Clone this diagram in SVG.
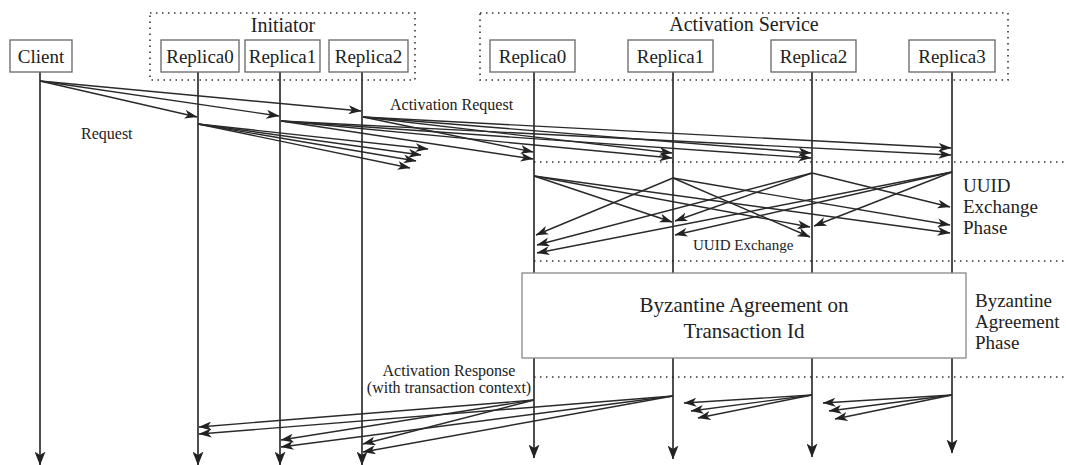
<svg xmlns="http://www.w3.org/2000/svg" width="1066" height="465" viewBox="0 0 1066 465">
<style>
.bg{fill:#fff}
.box{fill:#fff;stroke:#666;stroke-width:1.3}
.dot{fill:none;stroke:#333;stroke-width:1.6;stroke-dasharray:1.5 4.5}
.t{font-family:"Liberation Serif","Times New Roman",serif;fill:#222}
.lbl{font-size:19px;text-anchor:middle}
.grp{font-size:20px;text-anchor:middle}
.sm{font-size:16px}
.ph{font-size:19px}
.life{stroke:#222;stroke-width:1.6;fill:none}
.msg{stroke:#2a2a2a;stroke-width:1.4;fill:none}
</style>
<defs>
<marker id="ah" viewBox="0 0 13 9" refX="12.5" refY="4.5" markerWidth="13" markerHeight="9" markerUnits="userSpaceOnUse" orient="auto">
<path d="M0,0 L13,4.5 L0,9 L3.5,4.5 z" fill="#222"/>
</marker>
<marker id="lh" viewBox="0 0 14 11" refX="13.5" refY="5.5" markerWidth="14" markerHeight="11" markerUnits="userSpaceOnUse" orient="auto">
<path d="M0,0 L14,5.5 L0,11 L3.5,5.5 z" fill="#222"/>
</marker>
</defs>
<rect class="bg" x="0" y="0" width="1066" height="465"/>

<g id="phase-lines">
<line class="dot" x1="534" y1="162" x2="1066" y2="162"/>
<line class="dot" x1="534" y1="261" x2="1066" y2="261"/>
<line class="dot" x1="534" y1="377" x2="1066" y2="377"/>
</g>

<g id="connectors">
<g id="lifelines">
<path class="life" d="M40,72 V465" marker-end="url(#lh)"/>
<path class="life" d="M198,72 V465" marker-end="url(#lh)"/>
<path class="life" d="M280,72 V465" marker-end="url(#lh)"/>
<path class="life" d="M362,72 V465" marker-end="url(#lh)"/>
<path class="life" d="M534,72 V458" marker-end="url(#lh)"/>
<path class="life" d="M673,72 V459" marker-end="url(#lh)"/>
<path class="life" d="M812,72 V457" marker-end="url(#lh)"/>
<path class="life" d="M952,72 V453" marker-end="url(#lh)"/>
</g>
<g id="requests">
<path class="msg" d="M40,81 L197,117" marker-end="url(#ah)"/>
<path class="msg" d="M40,81 L279,116" marker-end="url(#ah)"/>
<path class="msg" d="M40,81 L361,111" marker-end="url(#ah)"/>
</g>
<g id="activation-requests">
<path class="msg" d="M198,124 L428,149" marker-end="url(#ah)"/>
<path class="msg" d="M198,124 L421,155" marker-end="url(#ah)"/>
<path class="msg" d="M198,124 L416,161" marker-end="url(#ah)"/>
<path class="msg" d="M198,124 L410,168" marker-end="url(#ah)"/>
<path class="msg" d="M281,121 L533,159" marker-end="url(#ah)"/>
<path class="msg" d="M281,121 L672,158" marker-end="url(#ah)"/>
<path class="msg" d="M281,121 L811,158" marker-end="url(#ah)"/>
<path class="msg" d="M281,121 L951,155" marker-end="url(#ah)"/>
<path class="msg" d="M363,117 L533,152" marker-end="url(#ah)"/>
<path class="msg" d="M363,117 L672,153" marker-end="url(#ah)"/>
<path class="msg" d="M363,117 L811,153" marker-end="url(#ah)"/>
<path class="msg" d="M363,117 L951,148" marker-end="url(#ah)"/>
</g>
<g id="uuid-exchange">
<path class="msg" d="M534,176 L672,222" marker-end="url(#ah)"/>
<path class="msg" d="M534,176 L810,227" marker-end="url(#ah)"/>
<path class="msg" d="M534,176 L950,233" marker-end="url(#ah)"/>
<path class="msg" d="M673,178 L536,235" marker-end="url(#ah)"/>
<path class="msg" d="M673,178 L810,237" marker-end="url(#ah)"/>
<path class="msg" d="M673,178 L950,225" marker-end="url(#ah)"/>
<path class="msg" d="M812,173 L537,245" marker-end="url(#ah)"/>
<path class="msg" d="M812,173 L675,221" marker-end="url(#ah)"/>
<path class="msg" d="M812,173 L950,207" marker-end="url(#ah)"/>
<path class="msg" d="M952,172 L537,253" marker-end="url(#ah)"/>
<path class="msg" d="M952,172 L675,235" marker-end="url(#ah)"/>
<path class="msg" d="M952,172 L814,226" marker-end="url(#ah)"/>
</g>
<g id="activation-responses">
<path class="msg" d="M534,400 L199,427" marker-end="url(#ah)"/>
<path class="msg" d="M534,400 L281,440" marker-end="url(#ah)"/>
<path class="msg" d="M534,400 L363,444" marker-end="url(#ah)"/>
<path class="msg" d="M673,396 L199,434" marker-end="url(#ah)"/>
<path class="msg" d="M673,396 L281,447" marker-end="url(#ah)"/>
<path class="msg" d="M673,396 L363,452" marker-end="url(#ah)"/>
<path class="msg" d="M812,395 L684,403" marker-end="url(#ah)"/>
<path class="msg" d="M812,395 L691,411" marker-end="url(#ah)"/>
<path class="msg" d="M812,395 L698,418" marker-end="url(#ah)"/>
<path class="msg" d="M952,395 L823,403" marker-end="url(#ah)"/>
<path class="msg" d="M952,395 L829,411" marker-end="url(#ah)"/>
<path class="msg" d="M952,395 L835,419" marker-end="url(#ah)"/>
</g>
</g>

<g id="labels">
<text class="t sm" x="81" y="139">Request</text>
<text class="t sm" x="390" y="110">Activation Request</text>
<text class="t" x="693" y="250" font-size="15">UUID Exchange</text>
<text class="t sm" x="449" y="376" text-anchor="middle">Activation Response</text>
<text class="t sm" x="449" y="393" text-anchor="middle">(with transaction context)</text>
<text class="t ph" x="963" y="192">UUID</text>
<text class="t ph" x="963" y="213">Exchange</text>
<text class="t ph" x="963" y="234">Phase</text>
<text class="t ph" x="975" y="307">Byzantine</text>
<text class="t ph" x="975" y="328">Agreement</text>
<text class="t ph" x="975" y="349">Phase</text>
</g>

<g id="initiator">
<rect class="dot" x="150" y="13" width="265" height="67"/>
<text class="t grp" x="283" y="32">Initiator</text>
</g>
<g id="activation-service">
<rect class="dot" x="480" y="13" width="528" height="67"/>
<text class="t grp" x="744" y="31">Activation Service</text>
</g>

<g id="client">
<rect class="box" x="10" y="40" width="62" height="32"/>
<text class="t lbl" x="41" y="63">Client</text>
</g>
<g id="init-replica0">
<rect class="box" x="161" y="40" width="78" height="32"/>
<text class="t lbl" x="200" y="63">Replica0</text>
</g>
<g id="init-replica1">
<rect class="box" x="245" y="40" width="75" height="32"/>
<text class="t lbl" x="282.5" y="63">Replica1</text>
</g>
<g id="init-replica2">
<rect class="box" x="329" y="40" width="79" height="32"/>
<text class="t lbl" x="368.5" y="63">Replica2</text>
</g>
<g id="as-replica0">
<rect class="box" x="490" y="40" width="85" height="32"/>
<text class="t lbl" x="532.5" y="63">Replica0</text>
</g>
<g id="as-replica1">
<rect class="box" x="628" y="40" width="85" height="32"/>
<text class="t lbl" x="670.5" y="63">Replica1</text>
</g>
<g id="as-replica2">
<rect class="box" x="771" y="40" width="85" height="32"/>
<text class="t lbl" x="813.5" y="63">Replica2</text>
</g>
<g id="as-replica3">
<rect class="box" x="909" y="40" width="86" height="32"/>
<text class="t lbl" x="952" y="63">Replica3</text>
</g>

<g id="byzantine-agreement">
<rect class="box" x="522" y="273" width="444" height="85" style="stroke:#888"/>
<text class="t" x="744" y="312" font-size="21" text-anchor="middle">Byzantine Agreement on</text>
<text class="t" x="744" y="338" font-size="21" text-anchor="middle">Transaction Id</text>
</g>
</svg>
